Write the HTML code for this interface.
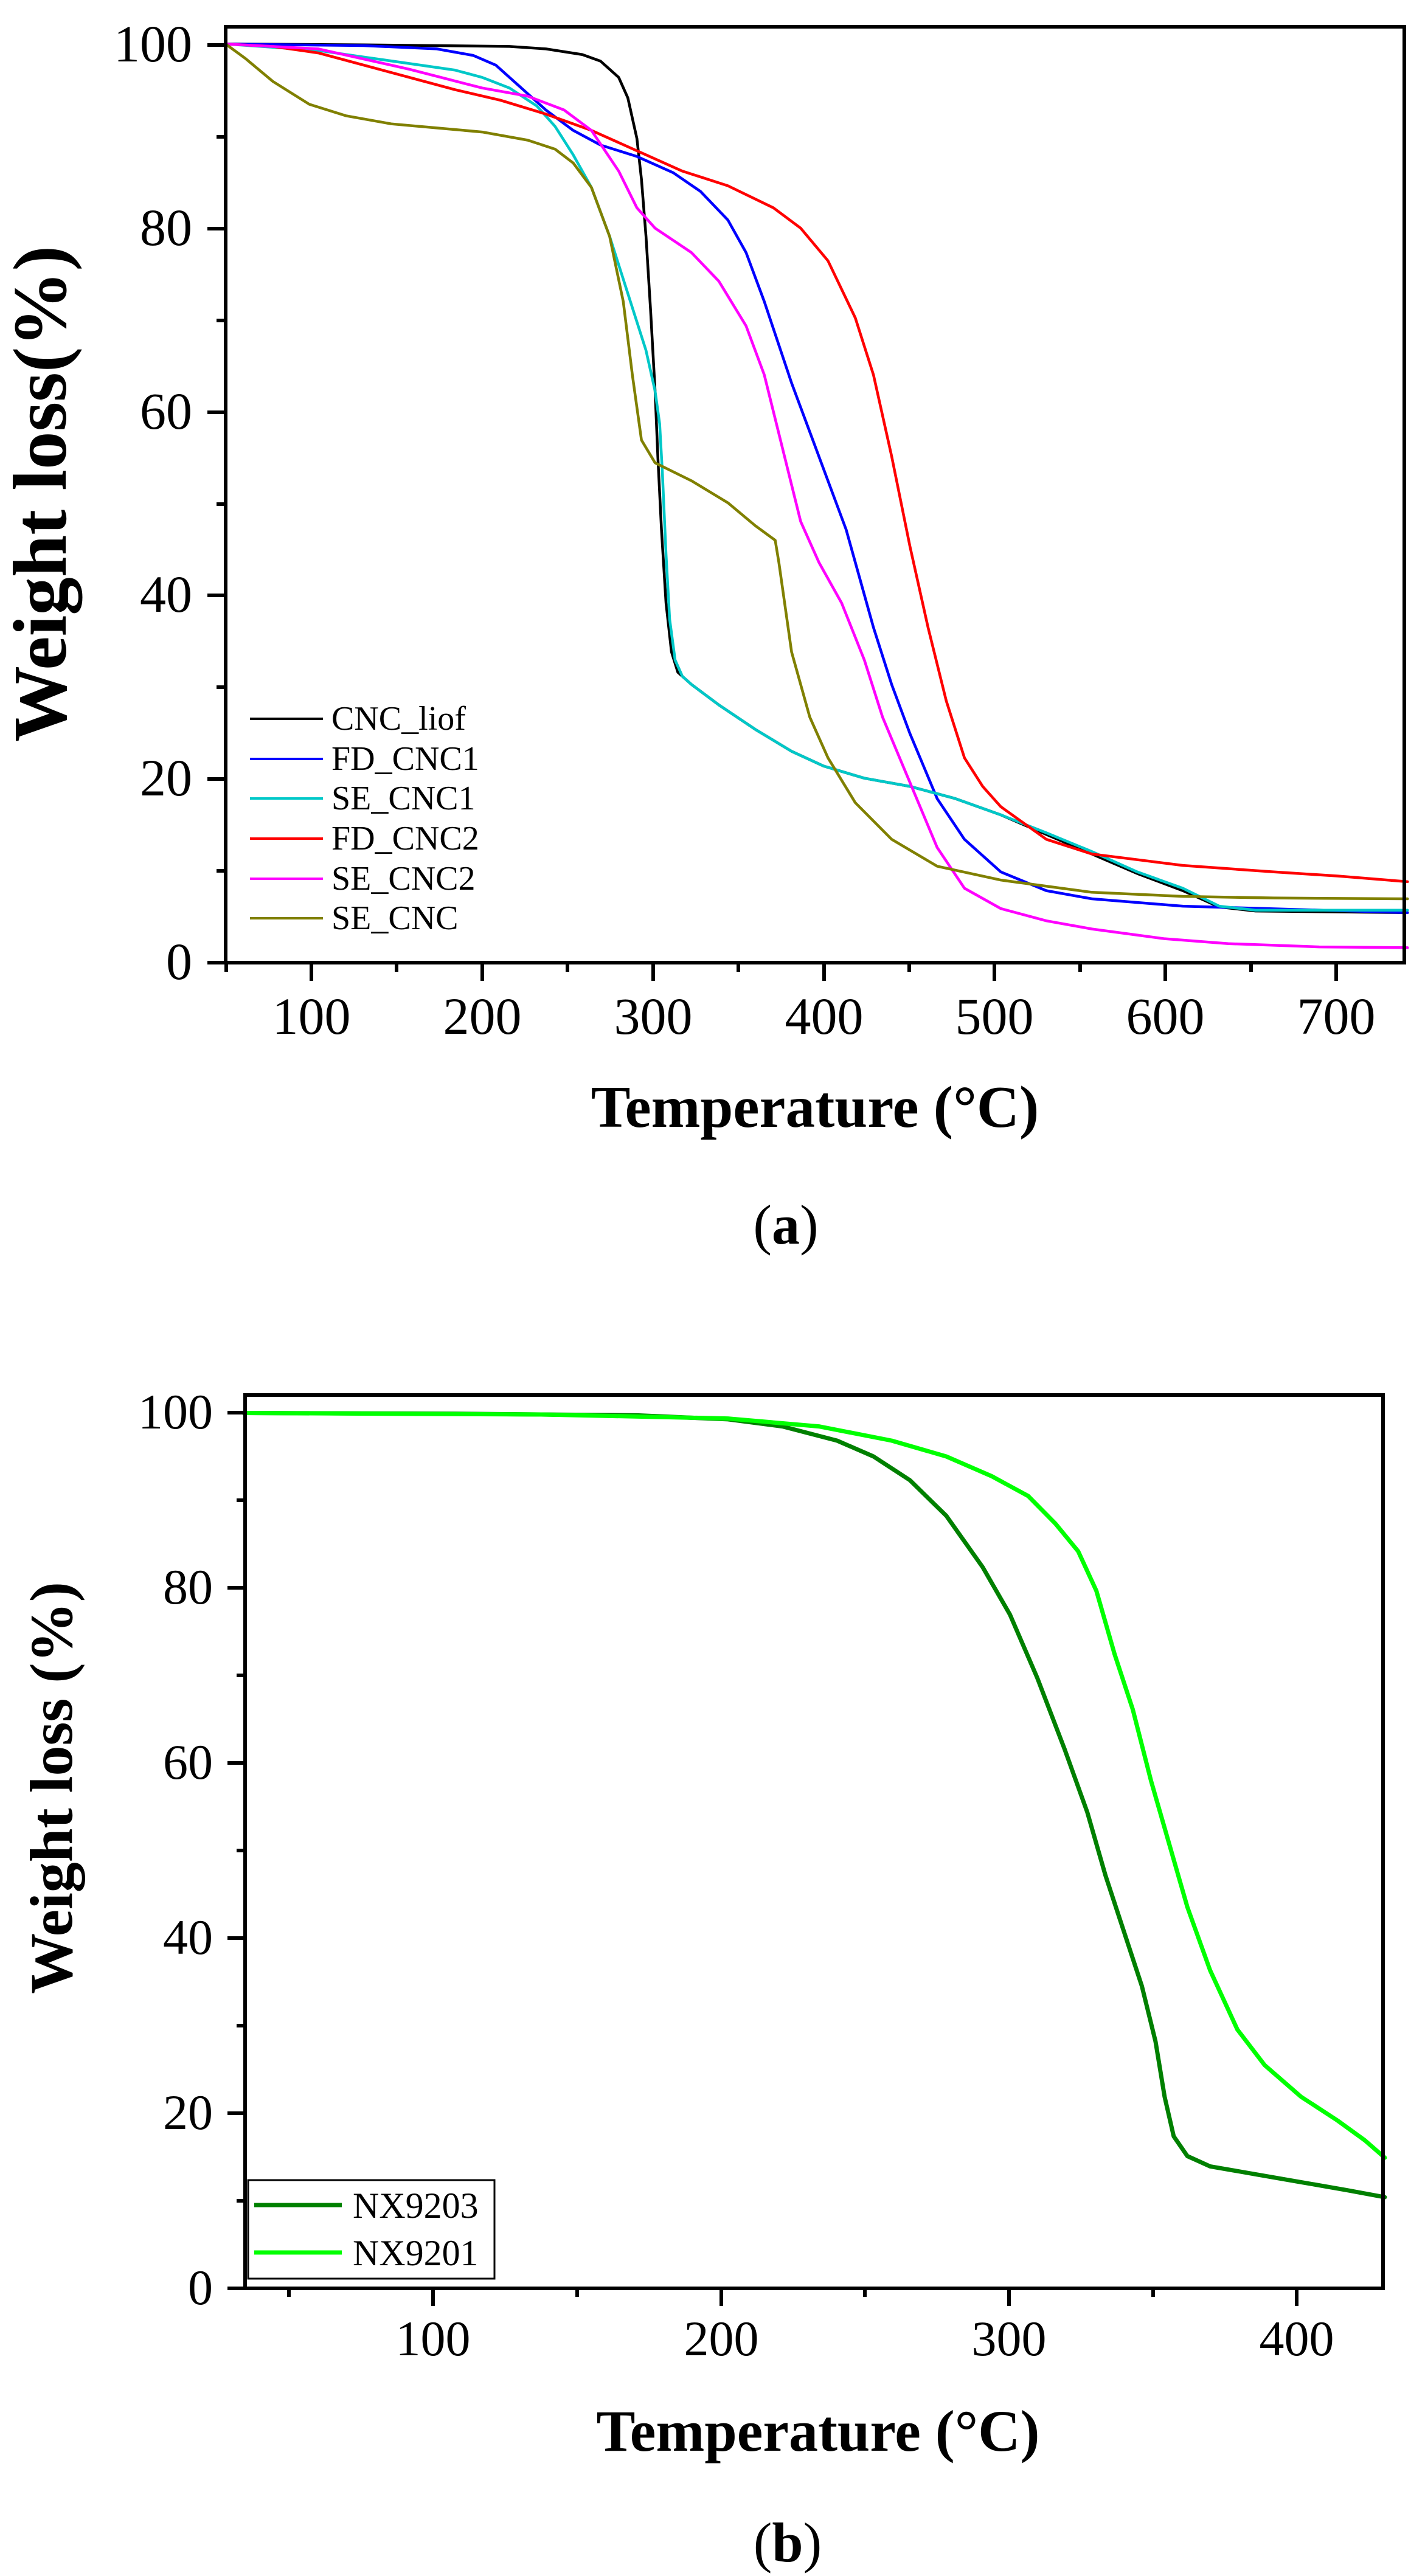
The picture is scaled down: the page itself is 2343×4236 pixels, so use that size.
<!DOCTYPE html>
<html><head><meta charset="utf-8"><style>
html,body{margin:0;padding:0;background:#fff}
svg{display:block}
text{font-family:"Liberation Serif",serif;fill:#000}
</style></head><body>
<svg width="2343" height="4236" viewBox="0 0 2343 4236" xmlns="http://www.w3.org/2000/svg">
<rect width="2343" height="4236" fill="#fff"/>

<!-- ===== Plot (a) ===== -->
<g fill="none" stroke-linejoin="round" stroke-linecap="round">
<g transform="matrix(1.496 0 0 1.34 0 0)">
<polyline vector-effect="non-scaling-stroke" stroke="#000" stroke-width="4.5" points="248,54 400,55 560,57 600,60 640,67 660,75 680,95 690,120 700,170 705,220 710,290 715,380 720,480 723,560 727,650 732,740 738,800 745,825 760,840 790,865 830,895 870,922 905,940 950,955 1000,965 1050,980 1100,1000 1150,1024 1200,1048 1250,1072 1300,1093 1340,1113 1380,1118 1547,1120"/>
<polyline vector-effect="non-scaling-stroke" stroke="#0000ff" stroke-width="4.5" points="248,54 400,56 480,60 520,68 545,80 570,105 600,135 630,160 660,178 700,192 740,212 770,235 800,270 820,310 840,370 855,420 870,470 890,530 910,590 930,650 945,710 960,770 980,840 1000,900 1030,980 1060,1030 1100,1070 1150,1093 1200,1103 1300,1112 1547,1120"/>
<polyline vector-effect="non-scaling-stroke" stroke="#00c8c8" stroke-width="4.5" points="248,54 300,58 350,62 400,70 450,78 500,86 530,95 560,108 590,130 610,155 630,190 650,230 670,290 690,360 710,430 720,480 725,520 728,580 732,680 736,760 742,810 750,830 760,840 790,865 830,895 870,922 905,940 950,955 1000,965 1050,980 1100,1000 1150,1022 1200,1045 1250,1070 1300,1090 1340,1112 1380,1117 1547,1117"/>
<polyline vector-effect="non-scaling-stroke" stroke="#ff0000" stroke-width="4.5" points="248,54 300,57 350,65 400,80 450,95 500,110 550,123 600,140 650,160 700,185 750,210 800,228 850,255 880,280 910,320 940,390 960,460 980,560 1000,670 1020,770 1040,860 1060,930 1080,965 1100,990 1150,1030 1200,1048 1250,1055 1300,1062 1400,1070 1470,1075 1547,1082"/>
<polyline vector-effect="non-scaling-stroke" stroke="#ff00ff" stroke-width="4.5" points="248,54 350,60 450,85 530,108 580,118 620,135 650,160 680,210 700,255 720,280 760,310 790,345 820,400 840,460 860,550 880,640 900,690 925,740 950,810 970,880 1000,960 1030,1040 1060,1090 1100,1115 1150,1130 1200,1140 1280,1152 1350,1158 1450,1162 1547,1163"/>
<polyline vector-effect="non-scaling-stroke" stroke="#808000" stroke-width="4.5" points="248,54 270,72 300,100 340,128 380,142 430,152 480,157 530,162 580,172 610,183 630,200 650,230 670,290 685,370 695,460 705,540 720,568 760,590 800,617 830,645 852,663 856,690 870,800 890,880 910,930 940,985 980,1030 1030,1063 1100,1080 1200,1095 1300,1100 1400,1102 1547,1103"/>
</g>
</g>
<rect x="371" y="44" width="1938" height="1539" fill="none" stroke="#000" stroke-width="6"/>
<g stroke="#000" stroke-width="6">
<line x1="341" y1="1583" x2="371" y2="1583"/><line x1="341" y1="1281" x2="371" y2="1281"/><line x1="341" y1="979" x2="371" y2="979"/><line x1="341" y1="678" x2="371" y2="678"/><line x1="341" y1="376" x2="371" y2="376"/><line x1="341" y1="74" x2="371" y2="74"/>
<line x1="356" y1="1432" x2="371" y2="1432"/><line x1="356" y1="1130" x2="371" y2="1130"/><line x1="356" y1="829" x2="371" y2="829"/><line x1="356" y1="527" x2="371" y2="527"/><line x1="356" y1="225" x2="371" y2="225"/>
<line x1="512" y1="1583" x2="512" y2="1613"/><line x1="793" y1="1583" x2="793" y2="1613"/><line x1="1074" y1="1583" x2="1074" y2="1613"/><line x1="1355" y1="1583" x2="1355" y2="1613"/><line x1="1635" y1="1583" x2="1635" y2="1613"/><line x1="1916" y1="1583" x2="1916" y2="1613"/><line x1="2197" y1="1583" x2="2197" y2="1613"/>
<line x1="372" y1="1583" x2="372" y2="1598"/><line x1="652" y1="1583" x2="652" y2="1598"/><line x1="933" y1="1583" x2="933" y2="1598"/><line x1="1214" y1="1583" x2="1214" y2="1598"/><line x1="1495" y1="1583" x2="1495" y2="1598"/><line x1="1776" y1="1583" x2="1776" y2="1598"/><line x1="2057" y1="1583" x2="2057" y2="1598"/>
</g>
<g font-size="86" text-anchor="end">
<text x="316" y="1610">0</text><text x="316" y="1308">20</text><text x="316" y="1006">40</text><text x="316" y="705">60</text><text x="316" y="403">80</text><text x="316" y="101">100</text>
</g>
<g font-size="86" text-anchor="middle">
<text x="512" y="1700">100</text><text x="793" y="1700">200</text><text x="1074" y="1700">300</text><text x="1355" y="1700">400</text><text x="1635" y="1700">500</text><text x="1916" y="1700">600</text><text x="2197" y="1700">700</text>
</g>
<text x="1340" y="1853" font-size="97" font-weight="bold" text-anchor="middle">Temperature (°C)</text>
<text transform="translate(108,812) rotate(-90)" font-size="125" font-weight="bold" text-anchor="middle">Weight loss(%)</text>
<text x="1292" y="2045" font-size="92" text-anchor="middle">(<tspan font-weight="bold">a</tspan>)</text>
<g stroke-width="4">
<line x1="411" y1="1182" x2="531" y2="1182" stroke="#000"/>
<line x1="411" y1="1248" x2="531" y2="1248" stroke="#0000ff"/>
<line x1="411" y1="1313" x2="531" y2="1313" stroke="#00c8c8"/>
<line x1="411" y1="1379" x2="531" y2="1379" stroke="#ff0000"/>
<line x1="411" y1="1445" x2="531" y2="1445" stroke="#ff00ff"/>
<line x1="411" y1="1510" x2="531" y2="1510" stroke="#808000"/>
</g>
<g font-size="56">
<text x="545" y="1200">CNC_liof</text><text x="545" y="1266">FD_CNC1</text><text x="545" y="1331">SE_CNC1</text><text x="545" y="1397">FD_CNC2</text><text x="545" y="1463">SE_CNC2</text><text x="545" y="1528">SE_CNC</text>
</g>

<!-- ===== Plot (b) ===== -->
<g fill="none" stroke-linejoin="round" stroke-linecap="round">
<g transform="matrix(1.496 0 0 1.30 0 2200)">
<polyline vector-effect="non-scaling-stroke" stroke="#008000" stroke-width="7" points="268,95 500,96 700,98 800,103 860,112 920,130 960,150 1000,180 1040,225 1080,290 1110,350 1140,430 1170,520 1195,600 1215,680 1235,750 1255,820 1270,890 1280,960 1290,1010 1305,1035 1330,1048 1380,1058 1430,1068 1480,1078 1522,1087"/>
<polyline vector-effect="non-scaling-stroke" stroke="#00ff00" stroke-width="7" points="268,95 600,97 800,102 900,112 980,130 1040,150 1090,175 1130,200 1160,235 1185,270 1205,320 1225,400 1245,470 1265,560 1285,640 1305,720 1330,800 1360,875 1390,920 1430,960 1470,990 1500,1015 1522,1037"/>
</g>
</g>
<rect x="403" y="2294" width="1871" height="1469" fill="none" stroke="#000" stroke-width="6"/>
<g stroke="#000" stroke-width="6">
<line x1="374" y1="3763" x2="403" y2="3763"/><line x1="374" y1="3475" x2="403" y2="3475"/><line x1="374" y1="3187" x2="403" y2="3187"/><line x1="374" y1="2899" x2="403" y2="2899"/><line x1="374" y1="2611" x2="403" y2="2611"/><line x1="374" y1="2323" x2="403" y2="2323"/>
<line x1="389" y1="3619" x2="403" y2="3619"/><line x1="389" y1="3331" x2="403" y2="3331"/><line x1="389" y1="3043" x2="403" y2="3043"/><line x1="389" y1="2755" x2="403" y2="2755"/><line x1="389" y1="2467" x2="403" y2="2467"/>
<line x1="712" y1="3763" x2="712" y2="3792"/><line x1="1186" y1="3763" x2="1186" y2="3792"/><line x1="1659" y1="3763" x2="1659" y2="3792"/><line x1="2132" y1="3763" x2="2132" y2="3792"/>
<line x1="475" y1="3763" x2="475" y2="3777"/><line x1="949" y1="3763" x2="949" y2="3777"/><line x1="1422" y1="3763" x2="1422" y2="3777"/><line x1="1896" y1="3763" x2="1896" y2="3777"/>
</g>
<g font-size="82" text-anchor="end">
<text x="350" y="3789">0</text><text x="350" y="3501">20</text><text x="350" y="3213">40</text><text x="350" y="2925">60</text><text x="350" y="2637">80</text><text x="350" y="2349">100</text>
</g>
<g font-size="82" text-anchor="middle">
<text x="712" y="3873">100</text><text x="1186" y="3873">200</text><text x="1659" y="3873">300</text><text x="2132" y="3873">400</text>
</g>
<text x="1345" y="4030" font-size="96" font-weight="bold" text-anchor="middle">Temperature (°C)</text>
<text transform="translate(118,2940) rotate(-90)" font-size="100" font-weight="bold" text-anchor="middle">Weight loss (%)</text>
<text x="1295" y="4212" font-size="92" text-anchor="middle">(<tspan font-weight="bold">b</tspan>)</text>
<rect x="408" y="3585" width="405" height="162" fill="#fff" stroke="#000" stroke-width="3"/>
<line x1="418" y1="3626" x2="562" y2="3626" stroke="#008000" stroke-width="7"/>
<line x1="418" y1="3704" x2="562" y2="3704" stroke="#00ff00" stroke-width="7"/>
<g font-size="60">
<text x="580" y="3647">NX9203</text><text x="580" y="3725">NX9201</text>
</g>
</svg>
</body></html>
